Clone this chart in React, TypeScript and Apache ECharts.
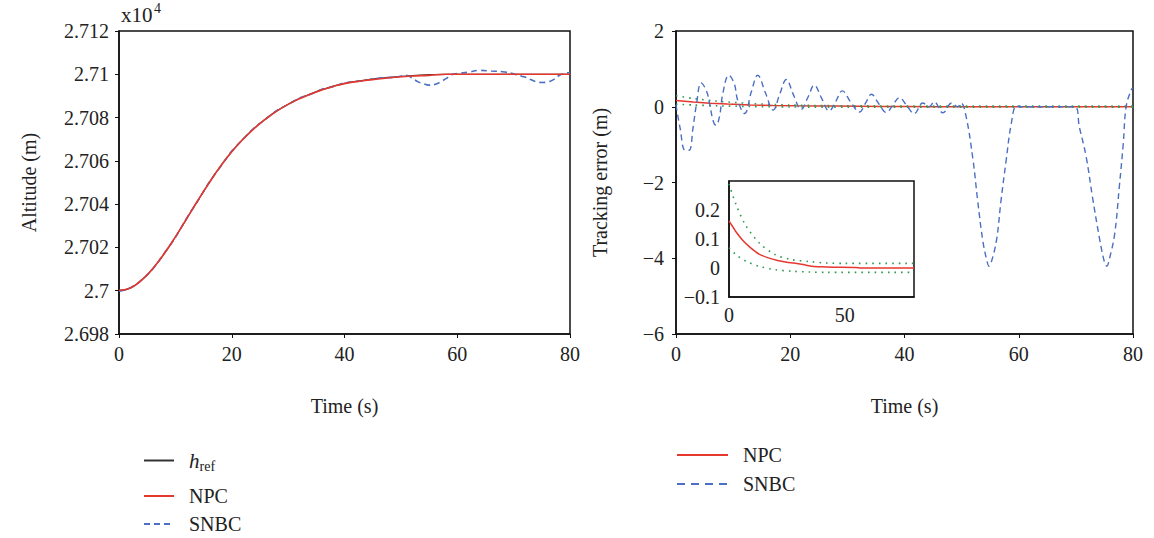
import React, { useEffect, useRef } from "react";
import * as echarts from "echarts";

const FONT = '"Liberation Serif", "Times New Roman", serif';
const TXT = "#222";
const RED = "#e5382f";
const BLUE = "#4a6fc3";
const GREEN = "#2f9a52";

// ---------- Left chart: altitude (m) ----------
const altT = [0, 2, 4, 6, 8, 10, 12, 14, 16, 18, 20, 22, 24, 26, 28, 30, 32, 34, 36, 38, 40, 43, 46, 49, 52, 55, 58, 62, 66, 70, 74, 78, 80];
const hRef = [27000.0, 27001.2, 27004.8, 27010.2, 27017.0, 27024.8, 27033.2, 27041.7, 27049.9, 27057.5, 27064.3, 27070.1, 27075.1, 27079.4, 27083.1, 27086.2, 27088.8, 27091.0, 27092.9, 27094.5, 27095.8, 27097.1, 27098.1, 27098.8, 27099.4, 27099.8, 27100.0, 27100.0, 27100.0, 27100.0, 27100.0, 27100.0, 27100.0];
const npcAlt = [27000.2, 27001.3, 27004.9, 27010.3, 27017.1, 27024.9, 27033.3, 27041.8, 27049.9, 27057.5, 27064.2, 27070.0, 27075.0, 27079.3, 27083.0, 27086.1, 27088.7, 27090.9, 27092.8, 27094.4, 27095.7, 27096.9, 27097.8, 27098.6, 27099.2, 27099.5, 27100.0, 27100.0, 27100.0, 27100.0, 27100.0, 27100.0, 27100.0];
const snbcAltT = [0, 2, 4, 6, 8, 10, 12, 14, 16, 18, 20, 22, 24, 26, 28, 30, 32, 34, 36, 38, 40, 43, 46, 49, 51, 52, 53, 54, 55, 56, 57, 58, 59, 60, 62, 64, 66, 68, 70, 72, 73, 74, 75, 76, 77, 78, 79, 80];
const snbcAlt = [26999.8, 27001.3, 27005.0, 27010.0, 27017.2, 27024.6, 27033.5, 27041.5, 27050.1, 27057.3, 27064.5, 27069.9, 27075.3, 27079.2, 27083.3, 27086.0, 27089.0, 27090.8, 27093.1, 27094.3, 27096.0, 27096.9, 27098.2, 27098.7, 27099.5, 27098.2, 27096.6, 27095.6, 27095.0, 27095.3, 27096.4, 27098.0, 27099.8, 27100.3, 27101.0, 27101.8, 27101.5, 27101.2, 27100.2, 27098.7, 27097.6, 27096.6, 27096.2, 27096.4, 27097.4, 27099.3, 27100.4, 27100.8];

// ---------- Right chart: tracking error (m) ----------
const npcErrT = [0, 1, 3, 6, 9, 13, 17, 21, 25, 28, 32, 36, 40, 45, 55, 57, 80];
const npcErr = [0.162, 0.15, 0.125, 0.095, 0.072, 0.048, 0.035, 0.026, 0.02, 0.017, 0.012, 0.006, 0.004, 0.003, 0.002, 0.0, 0.0];
const upperT = [0, 3, 7, 13, 20, 27, 35, 42, 50, 80];
const upperB = [0.29, 0.22, 0.15, 0.087, 0.046, 0.029, 0.022, 0.017, 0.016, 0.016];
const lowerT = [0, 3, 7.5, 13, 20, 27, 35, 42, 80];
const lowerB = [0.07, 0.046, 0.023, 0.006, -0.006, -0.011, -0.014, -0.015, -0.015];
const snbcErrT = [0, 0.7, 1.6, 2.3, 3.0, 3.6, 4.4, 5.3, 5.9, 6.5, 7.0, 7.6, 8.2, 9.25, 10.2, 10.8, 12.0, 13.2, 14.3, 15.7, 17.0, 18.2, 19.3, 20.6, 21.9, 23.1, 24.2, 25.5, 26.8, 28.0, 29.1, 30.6, 32.1, 33.2, 34.2, 35.5, 36.8, 38.0, 39.1, 40.4, 41.7, 43.2, 44.3, 45.2, 46.7, 48.3, 49.3, 49.9, 50.8, 52.0, 52.8, 53.7, 54.4, 54.8, 55.2, 56.1, 56.9, 57.8, 58.7, 59.6, 60.5, 65.0, 69.8, 70.6, 71.8, 72.9, 74.2, 75.0, 75.4, 75.9, 76.8, 77.6, 78.3, 78.8, 79.7, 80.0];
const snbcErr = [0.05, -0.55, -1.15, -1.15, -0.53, 0.08, 0.63, 0.43, 0.07, -0.37, -0.49, -0.27, 0.35, 0.83, 0.61, 0.17, -0.18, 0.4, 0.83, 0.35, -0.09, 0.35, 0.72, 0.3, -0.07, 0.25, 0.57, 0.22, -0.11, 0.15, 0.42, 0.12, -0.14, 0.1, 0.33, 0.08, -0.15, 0.05, 0.24, 0.03, -0.18, 0.1, 0.0, 0.13, -0.16, 0.1, 0.0, 0.1, -0.27, -1.41, -2.47, -3.53, -4.05, -4.21, -4.1, -3.53, -2.47, -1.41, -0.44, 0.02, 0.0, 0.0, 0.0, -0.53, -1.32, -2.38, -3.53, -4.1, -4.21, -4.0, -3.35, -2.12, -0.97, 0.0, 0.45, 0.5];

// ---------- tick labels ----------
const timeTicks = [0, 20, 40, 60, 80];
const altTicks = ["2.698", "2.7", "2.702", "2.704", "2.706", "2.708", "2.71", "2.712"];
const errTicks = ["−6", "−4", "−2", "0", "2"];
const insetYTicks = ["−0.1", "0", "0.1", "0.2"];
const insetXTicks = ["0", "50"];

const zip = (t: number[], v: number[]) => t.map((x, i) => [x, v[i]]);

export default function App() {
  const ref = useRef<HTMLDivElement>(null);
  useEffect(() => {
    if (!ref.current) return;
    const chart = echarts.init(ref.current, undefined, { renderer: "svg" });
    const axisLabel = { color: TXT, fontFamily: FONT, fontSize: 20 };
    const axisLine = { onZero: false, lineStyle: { color: "#111", width: 1.5 } };
    const axisTick = { length: 4, lineStyle: { color: "#111", width: 1 } };
    const nameStyle = { color: TXT, fontFamily: FONT, fontSize: 20 };
    const legendText = { color: TXT, fontFamily: FONT, fontSize: 20, padding: [0, 0, 0, 10] };
    const legendCommon = { padding: 0, itemHeight: 14, itemStyle: { opacity: 0 }, textStyle: legendText };

    chart.setOption({
      animation: false,
      backgroundColor: "#fff",
      grid: [
        { left: 119, top: 31, width: 451, height: 303, show: true, borderColor: "#111", borderWidth: 1.5 },
        { left: 676, top: 31, width: 457, height: 303, show: true, borderColor: "#111", borderWidth: 1.5 },
        { left: 729, top: 181, width: 185, height: 116, show: true, borderColor: "#111", borderWidth: 1.5, backgroundColor: "#fff", z: 5 },
      ],
      xAxis: [
        {
          gridIndex: 0, type: "value", min: 0, max: 80, interval: 20,
          name: "Time (s)", nameLocation: "middle", nameGap: 62, nameTextStyle: nameStyle,
          axisLine, axisTick, splitLine: { show: false },
          axisLabel: { ...axisLabel, margin: 10, formatter: (v: number) => String(timeTicks[timeTicks.indexOf(v)] ?? v) },
        },
        {
          gridIndex: 1, type: "value", min: 0, max: 80, interval: 20,
          name: "Time (s)", nameLocation: "middle", nameGap: 62, nameTextStyle: nameStyle,
          axisLine, axisTick, splitLine: { show: false },
          axisLabel: { ...axisLabel, margin: 10, formatter: (v: number) => String(timeTicks[timeTicks.indexOf(v)] ?? v) },
        },
        {
          gridIndex: 2, type: "value", min: 0, max: 80, interval: 50, z: 6,
          axisLine, axisTick: { show: false }, splitLine: { show: false },
          axisLabel: { ...axisLabel, margin: 8, showMaxLabel: false, formatter: (v: number) => (v === 0 ? insetXTicks[0] : v === 50 ? insetXTicks[1] : "") },
        },
      ],
      yAxis: [
        {
          gridIndex: 0, type: "value", min: 26980, max: 27120, interval: 20,
          name: "Altitude (m)", nameLocation: "middle", nameGap: 80, nameTextStyle: nameStyle,
          axisLine, axisTick, splitLine: { show: false },
          axisLabel: { ...axisLabel, margin: 10, formatter: (v: number) => altTicks[Math.round((v - 26980) / 20)] ?? "" },
        },
        {
          gridIndex: 1, type: "value", min: -6, max: 2, interval: 2,
          name: "Tracking error (m)", nameLocation: "middle", nameGap: 66, nameTextStyle: nameStyle,
          axisLine, axisTick, splitLine: { show: false },
          axisLabel: { ...axisLabel, margin: 12, formatter: (v: number) => errTicks[Math.round((v + 6) / 2)] ?? "" },
        },
        {
          gridIndex: 2, type: "value", min: -0.1, max: 0.3, interval: 0.1, z: 6,
          axisLine, axisTick: { show: false }, splitLine: { show: false },
          axisLabel: { ...axisLabel, margin: 9, showMaxLabel: false, formatter: (v: number) => insetYTicks[Math.round((v + 0.1) / 0.1)] ?? "" },
        },
      ],
      legend: [
        {
          ...legendCommon,
          data: ["h_ref"], left: 143, top: 450, itemWidth: 30,
          textStyle: {
            ...legendText,
            rich: {
              i: { fontFamily: FONT, fontSize: 21, fontStyle: "italic", color: TXT },
              s: { fontFamily: FONT, fontSize: 14, color: TXT, padding: [12, 0, 0, 0] },
            },
          },
          formatter: () => "{i|h}{s|ref}",
        },
        { ...legendCommon, data: ["NPC"], left: 143, top: 486, itemWidth: 30 },
        { ...legendCommon, data: ["SNBC"], left: 143, top: 514, itemWidth: 30 },
        { ...legendCommon, data: ["NPC"], left: 676, top: 445, itemWidth: 51 },
        { ...legendCommon, data: ["SNBC"], left: 676, top: 474, itemWidth: 51, lineStyle: { type: [8, 6] } },
      ],
      graphic: [
        { type: "text", left: 121, top: 4, style: { text: "x10", fontFamily: FONT, fontSize: 21, fill: TXT } },
        { type: "text", left: 154, top: 1, style: { text: "4", fontFamily: FONT, fontSize: 14, fill: TXT } },
      ],
      series: [
        { name: "h_ref", type: "line", xAxisIndex: 0, yAxisIndex: 0, data: zip(altT, hRef), symbol: "none", smooth: 0.5, lineStyle: { color: "#333", width: 1.2 }, itemStyle: { color: "#333" } },
        { name: "SNBC", type: "line", xAxisIndex: 0, yAxisIndex: 0, data: zip(snbcAltT, snbcAlt), symbol: "none", smooth: 0.4, lineStyle: { color: BLUE, width: 1.6, type: [6, 4] }, itemStyle: { color: BLUE } },
        { name: "NPC", type: "line", xAxisIndex: 0, yAxisIndex: 0, data: zip(altT, npcAlt), symbol: "none", smooth: 0.5, lineStyle: { color: RED, width: 1.6 }, itemStyle: { color: RED } },

        { name: "NPC", type: "line", xAxisIndex: 1, yAxisIndex: 1, data: zip(npcErrT, npcErr), symbol: "none", lineStyle: { color: RED, width: 1.5 }, itemStyle: { color: RED } },
        { name: "Upper bound", type: "line", xAxisIndex: 1, yAxisIndex: 1, data: zip(upperT, upperB), symbol: "none", smooth: 0.3, lineStyle: { color: GREEN, width: 1.6, type: [1.6, 5] }, itemStyle: { color: GREEN } },
        { name: "Lower bound", type: "line", xAxisIndex: 1, yAxisIndex: 1, data: zip(lowerT, lowerB), symbol: "none", smooth: 0.3, lineStyle: { color: GREEN, width: 1.6, type: [1.6, 5] }, itemStyle: { color: GREEN } },
        { name: "SNBC", type: "line", xAxisIndex: 1, yAxisIndex: 1, data: zip(snbcErrT, snbcErr), symbol: "none", smooth: 0.4, lineStyle: { color: BLUE, width: 1.4, type: [6, 4] }, itemStyle: { color: BLUE } },

        { name: "Upper bound", type: "line", xAxisIndex: 2, yAxisIndex: 2, z: 7, data: zip(upperT, upperB), symbol: "none", smooth: 0.3, lineStyle: { color: GREEN, width: 1.6, type: [1.6, 5] }, itemStyle: { color: GREEN } },
        { name: "Lower bound", type: "line", xAxisIndex: 2, yAxisIndex: 2, z: 7, data: zip(lowerT, lowerB), symbol: "none", smooth: 0.3, lineStyle: { color: GREEN, width: 1.6, type: [1.6, 5] }, itemStyle: { color: GREEN } },
        { name: "NPC", type: "line", xAxisIndex: 2, yAxisIndex: 2, z: 7, data: zip(npcErrT, npcErr), symbol: "none", smooth: 0.2, lineStyle: { color: RED, width: 1.5 }, itemStyle: { color: RED } },
      ],
    });
    return () => chart.dispose();
  }, []);
  return <div ref={ref} style={{ position: "fixed", left: 0, top: 0, width: 1154, height: 538 }} />;
}
